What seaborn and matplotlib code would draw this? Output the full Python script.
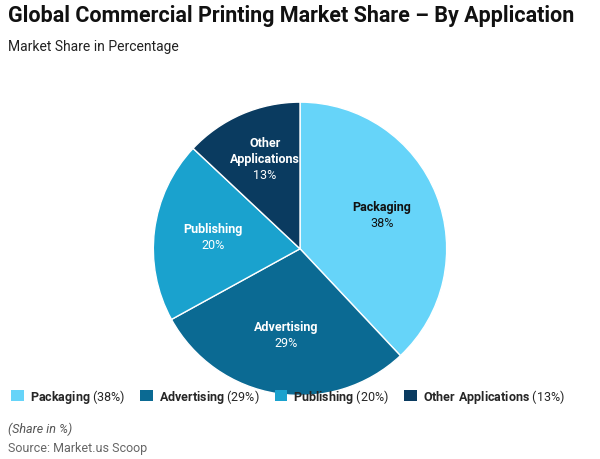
import matplotlib
matplotlib.use("Agg")
import matplotlib.pyplot as plt
import seaborn as sns
import numpy as np
from matplotlib.patches import Patch

sns.set_theme(style="white")
plt.rcParams['font.family'] = ['Roboto', 'DejaVu Sans']
plt.rcParams['mathtext.fontset'] = 'custom'
plt.rcParams['mathtext.rm'] = 'Roboto'
plt.rcParams['mathtext.bf'] = 'Roboto:bold'

categories = ['Packaging', 'Advertising', 'Publishing', 'Other Applications']
label_names = ['Packaging', 'Advertising', 'Publishing', 'Other\nApplications']
shares = [38, 29, 20, 13]
colors = ['#66D4F9', '#0B6A93', '#1AA2CE', '#0A3B60']
text_colors = ['#111111', 'white', 'white', 'white']

fig = plt.figure(figsize=(6, 4.6), dpi=100)
ax = fig.add_axes([0.253, 0.135, 0.494, 0.644])

wedges, _ = ax.pie(shares, colors=colors, startangle=90, counterclock=False,
                   wedgeprops=dict(edgecolor='white', linewidth=1))
for w, name, pct, tc in zip(wedges, label_names, shares, text_colors):
    ang = np.deg2rad((w.theta1 + w.theta2) / 2)
    r = 0.6
    x, y = r * np.cos(ang), r * np.sin(ang)
    ax.text(x, y + 0.02, name, ha='center', va='bottom', color=tc,
            fontsize=9, fontweight='bold', linespacing=1.35)
    ax.text(x, y, f"{pct}%", ha='center', va='top', color=tc, fontsize=9)
ax.set_xlim(-1.01, 1.01)
ax.set_ylim(-1.01, 1.01)
ax.set_aspect('equal')

fig.text(0.013, 0.965, 'Global Commercial Printing Market Share – By Application',
         fontsize=15.5, fontweight='bold', color='#111111', va='center')
fig.text(0.013, 0.897, 'Market Share in Percentage', fontsize=10, color='#222222', va='center')

handles = [Patch(facecolor=c, edgecolor='none') for c in colors]
labels = [f"$\\bf{{{c.replace(' ', '~')}}}$ ({s}%)" for c, s in zip(categories, shares)]
fig.legend(handles, labels, loc='center left', bbox_to_anchor=(0.0, 0.137), ncol=4,
           frameon=False, fontsize=9, handlelength=1.0, handleheight=1.0,
           columnspacing=1.2, handletextpad=0.5)

fig.text(0.013, 0.066, '(Share in %)', fontsize=9, style='italic', color='#555555', va='center')
fig.text(0.013, 0.024, 'Source: Market.us Scoop', fontsize=9, color='#666666', va='center')

fig.savefig('out.png', dpi=100)
